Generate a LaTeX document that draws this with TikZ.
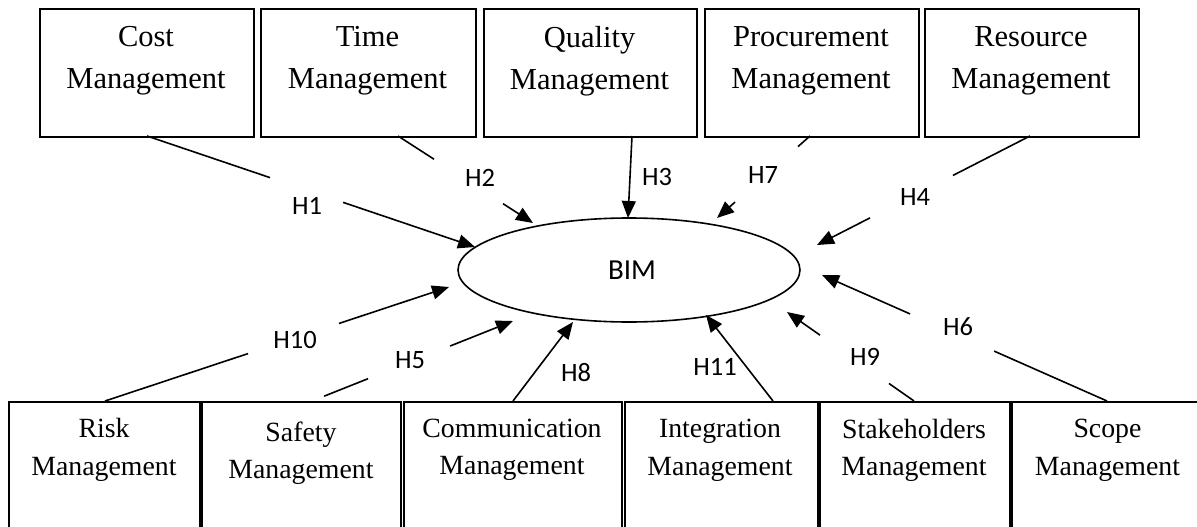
\documentclass[tikz,border=0pt]{standalone}
\usepackage{fontspec}
\setmainfont{Liberation Serif}
\newfontfamily\labfont{Carlito}
\usetikzlibrary{arrows.meta,calc}
\begin{document}
\begin{tikzpicture}[x=1pt,y=-1pt,
  mbox/.style={draw, line width=1.6pt, anchor=north west, inner sep=0pt},
  toptxt/.style={anchor=north, align=center, inner sep=0pt, font=\fontsize{30.5}{42}\selectfont},
  bottxt/.style={anchor=north, align=center, inner sep=0pt, font=\fontsize{27.8}{37.5}\selectfont},
  hlab/.style={font=\labfont\fontsize{26.5}{30}\selectfont, inner sep=0pt},
  conn/.style={line width=1.6pt},
  arr/.style={line width=1.6pt, -{Triangle[length=17pt,width=14pt]}}]
\useasboundingbox (0,0) rectangle (1197,527);
\clip (0,0) rectangle (1197,527);
% top boxes
\node[mbox, minimum width=214pt, minimum height=128pt] (cost) at (39,8) {};
\node[mbox, minimum width=215pt, minimum height=128pt] (time) at (260,8) {};
\node[mbox, minimum width=213pt, minimum height=128pt] (qual) at (483,8) {};
\node[mbox, minimum width=214pt, minimum height=128pt] (proc) at (704,8) {};
\node[mbox, minimum width=214pt, minimum height=128pt] (reso) at (924,8) {};
\node[toptxt] (costt) at (146,26.3) {Cost\\Management};
\node[toptxt] (timet) at (367.5,26.3) {Time\\Management};
\node[toptxt] (qualt) at (589.5,26.3) {Quality\\Management};
\node[toptxt] (proct) at (811,26.3) {Procurement\\Management};
\node[toptxt] (resot) at (1031,26.3) {Resource\\Management};
% bottom boxes
\node[mbox, minimum width=191pt, minimum height=140pt] (risk) at (8,401) {};
\node[mbox, minimum width=199pt, minimum height=140pt] (safe) at (201,401) {};
\node[mbox, minimum width=218pt, minimum height=140pt] (comm) at (403,401) {};
\node[mbox, minimum width=193pt, minimum height=140pt] (inte) at (624,401) {};
\node[mbox, minimum width=190pt, minimum height=140pt] (stak) at (819,401) {};
\node[mbox, minimum width=200pt, minimum height=140pt] (scop) at (1011,401) {};
\node[bottxt] (riskt) at (104,418.5) {Risk\\Management};
\node[bottxt] (safet) at (301,421.5) {Safety\\Management};
\node[bottxt] (commt) at (512,418.5) {Communication\\Management};
\node[bottxt] (intet) at (720,419) {Integration\\Management};
\node[bottxt] (stakt) at (914,419) {Stakeholders\\Management};
\node[bottxt] (scopt) at (1107.5,419) {Scope\\Management};
% BIM ellipse
\draw[line width=1.6pt] (629,270) ellipse [x radius=171pt, y radius=52pt];
\node[font=\labfont\fontsize{29}{32}\selectfont, inner sep=0pt] (bim) at (632,270) {BIM};
% connector end/start points
\coordinate (s1) at (147,136);  \coordinate (e1) at (475,247);
\coordinate (s2) at (398,136);  \coordinate (e2) at (533,223);
\coordinate (s3) at (632,136);  \coordinate (e3) at (628,218);
\coordinate (s7) at (810,136);  \coordinate (e7) at (717,218);
\coordinate (s4) at (1030,136); \coordinate (e4) at (817,245);
\coordinate (s10) at (105,401); \coordinate (e10) at (449,287);
\coordinate (s5) at (312,401);  \coordinate (e5) at (513,321);
\coordinate (s8) at (513,401);  \coordinate (e8) at (573,322);
\coordinate (s11) at (773,401); \coordinate (e11) at (706,315);
\coordinate (s9) at (914,401);  \coordinate (e9) at (787,312);
\coordinate (s6) at (1107,401); \coordinate (e6) at (822,275);
% H1
\draw[conn] (s1) -- ($(s1)!0.375!(e1)$);
\draw[arr] ($(s1)!0.598!(e1)$) -- (e1);
\node[hlab] (h1) at (307,206) {H1};
% H2
\draw[conn] (s2) -- ($(s2)!0.267!(e2)$);
\draw[arr] ($(s2)!0.778!(e2)$) -- (e2);
\node[hlab] (h2) at (480,178) {H2};
% H3
\draw[arr] (s3) -- (e3);
\node[hlab] (h3) at (657,177) {H3};
% H7
\draw[conn] (s7) -- ($(s7)!0.129!(e7)$);
\draw[arr] ($(s7)!0.806!(e7)$) -- (e7);
\node[hlab] (h7) at (763,175) {H7};
% H4
\draw[conn] (s4) -- ($(s4)!0.362!(e4)$);
\draw[arr] ($(s4)!0.751!(e4)$) -- (e4);
\node[hlab] (h4) at (915,197) {H4};
% H10
\draw[conn] (s10) -- ($(s10)!0.416!(e10)$);
\draw[arr] ($(s10)!0.680!(e10)$) -- (e10);
\node[hlab] (h10) at (295,340) {H10};
% H5
\draw[conn] ($(s5)!0.06!(e5)$) -- ($(s5)!0.279!(e5)$);
\draw[arr] ($(s5)!0.687!(e5)$) -- (e5);
\node[hlab] (h5) at (410,360) {H5};
% H8
\draw[arr] (s8) -- (e8);
\node[hlab] (h8) at (576,373) {H8};
% H11
\draw[arr] (s11) -- (e11);
\node[hlab] (h11) at (715,367) {H11};
% H9
\draw[conn] (s9) -- ($(s9)!0.197!(e9)$);
\draw[arr] ($(s9)!0.740!(e9)$) -- (e9);
\node[hlab] (h9) at (865,357) {H9};
% H6
\draw[conn] (s6) -- ($(s6)!0.396!(e6)$);
\draw[arr] ($(s6)!0.691!(e6)$) -- (e6);
\node[hlab] (h6) at (958,327) {H6};
\end{tikzpicture}
\end{document}
